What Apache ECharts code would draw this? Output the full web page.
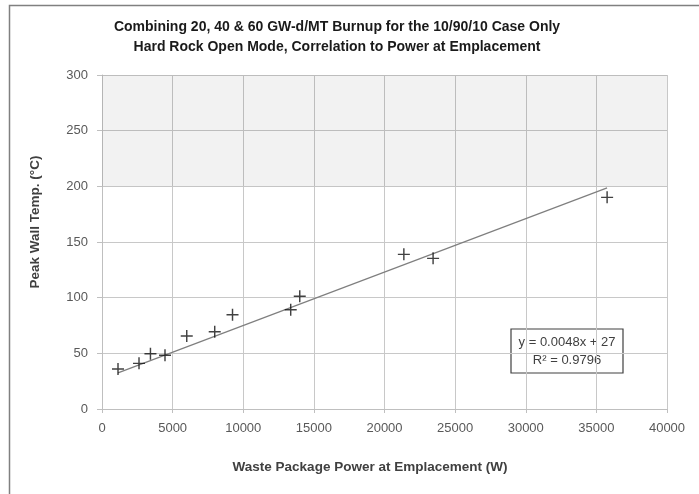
<!DOCTYPE html>
<html>
<head>
<meta charset="utf-8">
<script src="https://cdn.jsdelivr.net/npm/echarts@6/dist/echarts.min.js"></script>
<style>
  html, body { margin: 0; padding: 0; background: #fff; }
  #chart { width: 699px; height: 494px; }
</style>
</head>
<body>
<div id="chart"></div>
<script>
// Waste package power at emplacement (W) and resulting peak wall temperature (°C)
const powerW = [1133, 2620, 3430, 4460, 6000, 7980, 9240, 13360, 14000, 21370, 23440, 35760];
const peakTempC = [35.9, 41.0, 49.7, 48.2, 65.6, 69.4, 84.7, 89.2, 101.2, 138.9, 135.3, 190.1];

// Linear fit reported for the data set
const fitSlope = 0.0048;
const fitIntercept = 27;
const fitR2 = 0.9796;

// Axis ranges and tick spacing
const xTicks = { min: 0, max: 40000, interval: 5000 };
const yTicks = { min: 0, max: 300, interval: 50 };
const shadedBand = [200, 300];

const titleLines = [
  'Combining 20, 40 & 60 GW-d/MT Burnup for the 10/90/10 Case Only',
  'Hard Rock Open Mode, Correlation to Power at Emplacement'
];
const xName = 'Waste Package Power at Emplacement (W)';
const yName = 'Peak Wall Temp. (°C)';

const points = powerW.map((x, i) => [x, peakTempC[i]]);
const xLo = Math.min(...powerW);
const xHi = Math.max(...powerW);
const fitLine = [xLo, xHi].map(x => [x, fitSlope * x + fitIntercept]);

const FONT = '"Liberation Sans", Arial, sans-serif';
const plusPath = 'path://M0,4.4H10V5.6H0Z M4.4,0H5.6V10H4.4Z';

const chart = echarts.init(document.getElementById('chart'), null, { renderer: 'canvas' });

chart.setOption({
  backgroundColor: '#ffffff',
  animation: false,
  grid: { left: 102, right: 32, top: 75, bottom: 85, containLabel: false },
  xAxis: {
    type: 'value',
    min: xTicks.min, max: xTicks.max, interval: xTicks.interval,
    axisLine: { show: true, lineStyle: { color: '#bfbfbf', width: 1 } },
    axisTick: { show: true, length: 4, lineStyle: { color: '#bfbfbf' } },
    axisLabel: {
      color: '#595959', fontSize: 13, fontFamily: FONT, margin: 13,
      formatter: v => String(v)
    },
    splitLine: { show: true, lineStyle: { color: '#c8c8c8', width: 1 } }
  },
  yAxis: {
    type: 'value',
    min: yTicks.min, max: yTicks.max, interval: yTicks.interval,
    axisLine: { show: true, lineStyle: { color: '#bfbfbf', width: 1 } },
    axisTick: { show: true, length: 5, lineStyle: { color: '#bfbfbf' } },
    axisLabel: {
      color: '#595959', fontSize: 13, fontFamily: FONT, margin: 14,
      formatter: v => String(v)
    },
    splitLine: { show: true, lineStyle: { color: '#c8c8c8', width: 1 } }
  },
  series: [
    {
      name: 'band',
      type: 'line',
      data: [],
      silent: true,
      markArea: {
        silent: true,
        itemStyle: { color: 'rgba(0,0,0,0.05)' },
        data: [[{ yAxis: shadedBand[0] }, { yAxis: shadedBand[1] }]]
      }
    },
    {
      name: 'Linear fit',
      type: 'line',
      data: fitLine,
      symbol: 'none',
      lineStyle: { color: '#7f7f7f', width: 1.2 },
      z: 3
    },
    {
      name: 'Peak wall temperature',
      type: 'scatter',
      data: points,
      symbol: plusPath,
      symbolSize: 12,
      itemStyle: { color: '#111111' },
      z: 4
    }
  ],
  graphic: [
    {
      type: 'rect',
      shape: { x: 9.5, y: 5.5, width: 760, height: 560 },
      style: { fill: 'none', stroke: '#808080', lineWidth: 1.5 },
      silent: true, z: 0
    },
    {
      type: 'text', x: 337, y: 27,
      style: {
        text: titleLines[0], fill: '#1a1a1a', align: 'center', verticalAlign: 'middle',
        font: 'bold 14px ' + FONT
      }
    },
    {
      type: 'text', x: 337, y: 47,
      style: {
        text: titleLines[1], fill: '#1a1a1a', align: 'center', verticalAlign: 'middle',
        font: 'bold 14px ' + FONT
      }
    },
    {
      type: 'text', x: 370, y: 467,
      style: {
        text: xName, fill: '#404040', align: 'center', verticalAlign: 'middle',
        font: 'bold 13.5px ' + FONT
      }
    },
    {
      type: 'text', x: 35, y: 222, rotation: Math.PI / 2,
      style: {
        text: yName, fill: '#404040', align: 'center', verticalAlign: 'middle',
        font: 'bold 13.5px ' + FONT
      }
    },
    {
      type: 'group', x: 511, y: 329, z: 10,
      children: [
        {
          type: 'rect', shape: { x: 0, y: 0, width: 112, height: 44 },
          style: { fill: '#ffffff', stroke: '#404040', lineWidth: 1.2 }
        },
        {
          type: 'text', x: 56, y: 13,
          style: {
            text: 'y = ' + fitSlope + 'x + ' + fitIntercept, fill: '#404040',
            align: 'center', verticalAlign: 'middle', font: '13px ' + FONT
          }
        },
        {
          type: 'text', x: 56, y: 31,
          style: {
            text: 'R² = ' + fitR2, fill: '#404040',
            align: 'center', verticalAlign: 'middle', font: '13px ' + FONT
          }
        }
      ]
    }
  ]
});
</script>
</body>
</html>
